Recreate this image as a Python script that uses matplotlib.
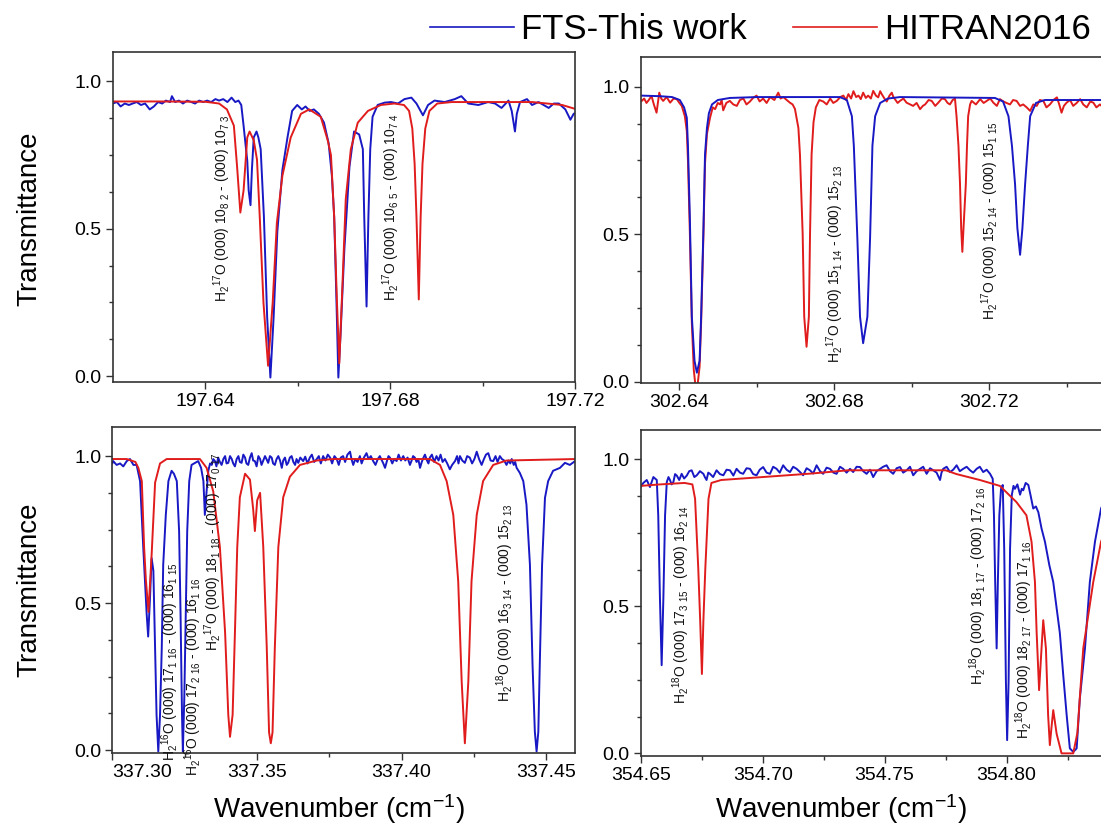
import numpy as np
import matplotlib
matplotlib.use('Agg')
import matplotlib.pyplot as plt
from matplotlib.lines import Line2D
from matplotlib.ticker import FixedLocator, FormatStrFormatter

plt.rcParams['font.family'] = ['Liberation Sans', 'DejaVu Sans']
plt.rcParams['mathtext.default'] = 'regular'

BLUE = '#1818c4'
RED = '#e01c1c'

# ---- top-left: 197.62 - 197.72 cm-1 (wavenumber, transmittance) ----
tl_fts = [
    (197.6200, 0.925), (197.6209, 0.93), (197.6217, 0.915), (197.6226, 0.925), (197.6235, 0.92),
    (197.6243, 0.925), (197.6252, 0.93), (197.6261, 0.92), (197.6270, 0.925), (197.6280, 0.905),
    (197.6289, 0.915), (197.6298, 0.93), (197.6307, 0.925), (197.6315, 0.935), (197.6324, 0.93),
    (197.6328, 0.95), (197.6335, 0.93), (197.6343, 0.935), (197.6352, 0.925), (197.6361, 0.935),
    (197.6370, 0.93), (197.6378, 0.925), (197.6387, 0.935), (197.6396, 0.93), (197.6404, 0.935),
    (197.6413, 0.93), (197.6422, 0.94), (197.6430, 0.935), (197.6439, 0.94), (197.6448, 0.93),
    (197.6457, 0.945), (197.6465, 0.93), (197.6472, 0.935), (197.6478, 0.92), (197.6483, 0.85),
    (197.6491, 0.73), (197.6494, 0.63), (197.6498, 0.58), (197.6501, 0.70), (197.6505, 0.81),
    (197.6511, 0.83), (197.6515, 0.81), (197.6520, 0.77), (197.6527, 0.54), (197.6534, 0.20),
    (197.6541, -0.005), (197.6548, 0.20), (197.6556, 0.49), (197.6567, 0.70), (197.6578, 0.81),
    (197.6588, 0.90), (197.6599, 0.92), (197.6609, 0.905), (197.6617, 0.915), (197.6626, 0.90),
    (197.6635, 0.905), (197.6646, 0.89), (197.6657, 0.86), (197.6667, 0.79), (197.6674, 0.68),
    (197.6679, 0.54), (197.6684, 0.25), (197.6688, -0.005), (197.6693, 0.15), (197.6701, 0.43),
    (197.6712, 0.71), (197.6722, 0.83), (197.6733, 0.82), (197.6741, 0.77), (197.6744, 0.54),
    (197.6749, 0.236), (197.6753, 0.54), (197.6757, 0.77), (197.6762, 0.88), (197.6773, 0.92),
    (197.6788, 0.928), (197.6802, 0.93), (197.6817, 0.925), (197.6831, 0.94), (197.6846, 0.945),
    (197.6857, 0.925), (197.6871, 0.885), (197.6882, 0.92), (197.6896, 0.935), (197.6918, 0.93),
    (197.6940, 0.94), (197.6954, 0.95), (197.6969, 0.925), (197.6991, 0.92), (197.7012, 0.93),
    (197.7027, 0.925), (197.7041, 0.91), (197.7056, 0.935), (197.7063, 0.90), (197.7070, 0.83),
    (197.7074, 0.89), (197.7081, 0.93), (197.7096, 0.94), (197.7107, 0.92), (197.7121, 0.93),
    (197.7143, 0.91), (197.7154, 0.925), (197.7165, 0.925), (197.7179, 0.905), (197.7190, 0.87),
    (197.7197, 0.89), (197.7204, 0.895),
]
tl_hit = [
    (197.6200, 0.932), (197.6300, 0.932), (197.6400, 0.931), (197.6430, 0.925), (197.6447, 0.905),
    (197.6462, 0.85), (197.6469, 0.71), (197.6476, 0.555), (197.6483, 0.63), (197.6491, 0.81),
    (197.6496, 0.83), (197.6505, 0.80), (197.6512, 0.735), (197.6518, 0.54), (197.6526, 0.25),
    (197.6536, 0.035), (197.6546, 0.25), (197.6555, 0.52), (197.6567, 0.68), (197.6585, 0.81),
    (197.6607, 0.89), (197.6625, 0.905), (197.6650, 0.88), (197.6665, 0.80), (197.6672, 0.75),
    (197.6679, 0.54), (197.6685, 0.25), (197.6690, 0.043), (197.6697, 0.315), (197.6704, 0.60),
    (197.6715, 0.77), (197.6730, 0.86), (197.6752, 0.90), (197.6780, 0.92), (197.6809, 0.925),
    (197.6830, 0.92), (197.6841, 0.90), (197.6848, 0.84), (197.6853, 0.72), (197.6857, 0.54),
    (197.6862, 0.26), (197.6866, 0.54), (197.6870, 0.72), (197.6876, 0.84), (197.6885, 0.90),
    (197.6902, 0.925), (197.6933, 0.93), (197.7107, 0.93), (197.7172, 0.92), (197.7204, 0.905),
]

# ---- top-right: 302.63 - 302.76 cm-1 ----
tr_fts = [
    (302.6300, 0.97), (302.6350, 0.968), (302.6381, 0.965), (302.6401, 0.955), (302.6412, 0.93),
    (302.6419, 0.895), (302.6422, 0.80), (302.6427, 0.55), (302.6432, 0.22), (302.6439, 0.07),
    (302.6445, 0.03), (302.6452, 0.07), (302.6456, 0.22), (302.6462, 0.52), (302.6466, 0.77),
    (302.6471, 0.86), (302.6476, 0.91), (302.6484, 0.94), (302.6499, 0.955), (302.6530, 0.962),
    (302.6600, 0.965), (302.6814, 0.965), (302.6832, 0.955), (302.6845, 0.90), (302.6850, 0.80),
    (302.6859, 0.49), (302.6866, 0.22), (302.6874, 0.13), (302.6885, 0.22), (302.6892, 0.49),
    (302.6898, 0.80), (302.6905, 0.90), (302.6918, 0.945), (302.6938, 0.96), (302.6969, 0.965),
    (302.7214, 0.962), (302.7235, 0.95), (302.7249, 0.90), (302.7258, 0.80), (302.7266, 0.67),
    (302.7272, 0.52), (302.7279, 0.43), (302.7285, 0.52), (302.7292, 0.67), (302.7299, 0.80),
    (302.7305, 0.90), (302.7320, 0.945), (302.7343, 0.955), (302.7600, 0.955),
]
tr_hit = [
    (302.6300, 0.955), (302.6303, 0.952), (302.6309, 0.96), (302.6315, 0.945), (302.6321, 0.955),
    (302.6328, 0.969), (302.6334, 0.94), (302.6341, 0.912), (302.6348, 0.98), (302.6353, 0.96),
    (302.6358, 0.952), (302.6367, 0.965), (302.6376, 0.946), (302.6385, 0.96), (302.6393, 0.958),
    (302.6400, 0.945), (302.6406, 0.935), (302.6414, 0.90), (302.6419, 0.85), (302.6422, 0.75),
    (302.6427, 0.50), (302.6432, 0.20), (302.6437, 0.04), (302.6441, -0.01), (302.6447, -0.01),
    (302.6452, 0.05), (302.6456, 0.20), (302.6462, 0.50), (302.6466, 0.74), (302.6471, 0.84),
    (302.6479, 0.895), (302.6486, 0.93), (302.6492, 0.924), (302.6499, 0.945), (302.6505, 0.94),
    (302.6509, 0.955), (302.6513, 0.92), (302.6521, 0.945), (302.6530, 0.952), (302.6539, 0.94),
    (302.6548, 0.935), (302.6556, 0.955), (302.6565, 0.96), (302.6573, 0.94), (302.6582, 0.95),
    (302.6590, 0.962), (302.6599, 0.97), (302.6607, 0.95), (302.6616, 0.96), (302.6625, 0.945),
    (302.6634, 0.965), (302.6645, 0.955), (302.6655, 0.98), (302.6661, 0.96), (302.6668, 0.965),
    (302.6677, 0.955), (302.6685, 0.946), (302.6692, 0.94), (302.6698, 0.925), (302.6707, 0.86),
    (302.6711, 0.77), (302.6718, 0.50), (302.6722, 0.22), (302.6728, 0.118), (302.6734, 0.22),
    (302.6737, 0.50), (302.6741, 0.77), (302.6746, 0.88), (302.6752, 0.93), (302.6761, 0.955),
    (302.6771, 0.95), (302.6780, 0.94), (302.6789, 0.96), (302.6797, 0.945), (302.6806, 0.952),
    (302.6815, 0.965), (302.6823, 0.97), (302.6830, 0.955), (302.6836, 0.975), (302.6843, 0.96),
    (302.6849, 0.985), (302.6856, 0.965), (302.6862, 0.97), (302.6868, 0.958), (302.6874, 0.98),
    (302.6881, 0.962), (302.6887, 0.97), (302.6894, 0.96), (302.6900, 0.986), (302.6907, 0.97),
    (302.6913, 0.964), (302.6918, 0.985), (302.6922, 0.975), (302.6929, 0.96), (302.6935, 0.95),
    (302.6942, 0.97), (302.6948, 0.98), (302.6952, 0.965), (302.6956, 0.958), (302.6963, 0.945),
    (302.6969, 0.952), (302.6978, 0.96), (302.6986, 0.946), (302.6995, 0.94), (302.7003, 0.935),
    (302.7012, 0.945), (302.7021, 0.924), (302.7028, 0.935), (302.7034, 0.94), (302.7043, 0.955),
    (302.7051, 0.952), (302.7060, 0.935), (302.7068, 0.946), (302.7077, 0.96), (302.7085, 0.958),
    (302.7092, 0.945), (302.7098, 0.94), (302.7105, 0.955), (302.7111, 0.96), (302.7115, 0.90),
    (302.7120, 0.80), (302.7124, 0.67), (302.7127, 0.52), (302.7130, 0.44), (302.7133, 0.52),
    (302.7139, 0.67), (302.7142, 0.80), (302.7145, 0.90), (302.7150, 0.94), (302.7154, 0.952),
    (302.7165, 0.94), (302.7176, 0.958), (302.7185, 0.945), (302.7193, 0.952), (302.7202, 0.96),
    (302.7210, 0.946), (302.7219, 0.935), (302.7227, 0.958), (302.7236, 0.95), (302.7244, 0.945),
    (302.7253, 0.94), (302.7261, 0.955), (302.7270, 0.952), (302.7279, 0.935), (302.7287, 0.94),
    (302.7296, 0.93), (302.7305, 0.918), (302.7313, 0.94), (302.7322, 0.935), (302.7330, 0.955),
    (302.7339, 0.952), (302.7347, 0.93), (302.7356, 0.94), (302.7365, 0.955), (302.7374, 0.964),
    (302.7380, 0.94), (302.7386, 0.912), (302.7392, 0.935), (302.7399, 0.946), (302.7408, 0.955),
    (302.7416, 0.935), (302.7425, 0.945), (302.7434, 0.958), (302.7442, 0.94), (302.7451, 0.93),
    (302.7460, 0.95), (302.7468, 0.946), (302.7476, 0.93), (302.7485, 0.94), (302.7498, 0.925),
    (302.7511, 0.935), (302.7524, 0.95), (302.7537, 0.945), (302.7550, 0.925), (302.7563, 0.93),
    (302.7580, 0.945), (302.7600, 0.94),
]

# ---- bottom-left: 337.30 - 337.46 cm-1 ----
bl_fts = [
    (337.3000, 0.975), (337.3003, 0.983), (337.3015, 0.97), (337.3027, 0.975), (337.3038, 0.965),
    (337.3050, 0.983), (337.3061, 0.99), (337.3073, 0.97), (337.3084, 0.97), (337.3096, 0.915),
    (337.3107, 0.69), (337.3119, 0.46), (337.3124, 0.386), (337.3130, 0.51), (337.3136, 0.653),
    (337.3142, 0.61), (337.3148, 0.347), (337.3153, 0.12), (337.3159, -0.005), (337.3165, 0.12),
    (337.3171, 0.347), (337.3176, 0.63), (337.3185, 0.80), (337.3194, 0.915), (337.3205, 0.95),
    (337.3213, 0.94), (337.3223, 0.915), (337.3231, 0.744), (337.3236, 0.46), (337.3241, 0.12),
    (337.3244, -0.005), (337.3249, 0.18), (337.3254, 0.46), (337.3259, 0.744), (337.3266, 0.915),
    (337.3274, 0.97), (337.3286, 0.977), (337.3297, 0.983), (337.3307, 0.96), (337.3315, 0.915),
    (337.3320, 0.80), (337.3326, 0.88), (337.3332, 0.95), (337.3338, 0.975), (337.3344, 0.97),
    (337.3349, 0.99), (337.3355, 0.983), (337.3360, 0.965), (337.3366, 0.995), (337.3372, 0.98),
    (337.3378, 0.97), (337.3384, 0.99), (337.3390, 1.0), (337.3395, 0.975), (337.3401, 0.977),
    (337.3407, 1.0), (337.3413, 0.99), (337.3418, 0.975), (337.3424, 0.965), (337.3430, 0.99),
    (337.3436, 1.0), (337.3441, 0.98), (337.3447, 0.977), (337.3453, 1.005), (337.3459, 0.995),
    (337.3464, 0.975), (337.3470, 0.97), (337.3476, 0.995), (337.3482, 1.01), (337.3487, 0.985),
    (337.3493, 0.983), (337.3499, 0.965), (337.3505, 1.0), (337.3511, 0.99), (337.3516, 0.97),
    (337.3522, 0.985), (337.3528, 1.0), (337.3533, 0.99), (337.3539, 0.977), (337.3545, 1.0),
    (337.3551, 0.995), (337.3556, 0.975), (337.3562, 0.97), (337.3568, 0.99), (337.3574, 1.0),
    (337.3580, 0.985), (337.3586, 0.96), (337.3591, 0.985), (337.3597, 0.995), (337.3603, 0.97),
    (337.3608, 0.977), (337.3614, 0.995), (337.3620, 1.0), (337.3626, 0.98), (337.3632, 0.97),
    (337.3637, 0.99), (337.3643, 0.977), (337.3650, 0.995), (337.3660, 0.983), (337.3667, 0.998),
    (337.3675, 0.975), (337.3683, 0.995), (337.3690, 1.005), (337.3698, 0.98), (337.3707, 0.99),
    (337.3714, 1.0), (337.3721, 0.975), (337.3729, 1.0), (337.3737, 0.985), (337.3745, 1.005),
    (337.3753, 0.995), (337.3760, 0.975), (337.3768, 1.0), (337.3776, 0.99), (337.3783, 0.97),
    (337.3790, 0.995), (337.3798, 1.0), (337.3805, 0.98), (337.3813, 1.005), (337.3822, 1.015),
    (337.3827, 0.99), (337.3833, 0.97), (337.3840, 0.99), (337.3848, 0.98), (337.3856, 1.0),
    (337.3862, 0.975), (337.3870, 0.995), (337.3879, 1.01), (337.3886, 0.99), (337.3894, 1.0),
    (337.3902, 0.983), (337.3910, 0.97), (337.3918, 0.99), (337.3925, 1.0), (337.3932, 0.985),
    (337.3937, 0.975), (337.3943, 0.96), (337.3950, 0.985), (337.3955, 1.0), (337.3960, 0.995),
    (337.3968, 0.975), (337.3975, 0.99), (337.3983, 0.983), (337.3990, 1.005), (337.3998, 0.985),
    (337.4006, 1.0), (337.4013, 0.985), (337.4021, 0.995), (337.4029, 0.97), (337.4035, 0.985),
    (337.4040, 1.0), (337.4046, 0.995), (337.4052, 0.98), (337.4058, 0.99), (337.4064, 0.96),
    (337.4070, 0.98), (337.4076, 0.995), (337.4081, 1.005), (337.4088, 0.985), (337.4093, 0.975),
    (337.4098, 0.995), (337.4105, 1.005), (337.4113, 0.98), (337.4121, 1.0), (337.4128, 0.985),
    (337.4135, 1.005), (337.4142, 0.98), (337.4150, 0.99), (337.4158, 0.975), (337.4167, 0.955),
    (337.4175, 0.97), (337.4185, 0.983), (337.4192, 1.0), (337.4197, 0.975), (337.4202, 1.0),
    (337.4210, 0.985), (337.4219, 0.977), (337.4227, 1.0), (337.4236, 0.995), (337.4244, 0.975),
    (337.4252, 0.99), (337.4260, 1.015), (337.4268, 0.99), (337.4277, 0.97), (337.4285, 0.99),
    (337.4292, 1.005), (337.4300, 1.01), (337.4308, 0.985), (337.4317, 0.983), (337.4325, 1.0),
    (337.4332, 0.98), (337.4340, 1.0), (337.4347, 0.99), (337.4355, 0.985), (337.4363, 0.97),
    (337.4370, 0.985), (337.4376, 0.975), (337.4381, 0.99), (337.4388, 0.97), (337.4393, 0.98),
    (337.4398, 0.96), (337.4409, 0.943), (337.4421, 0.915), (337.4432, 0.835), (337.4444, 0.63),
    (337.4453, 0.29), (337.4461, 0.062), (337.4467, -0.005), (337.4473, 0.062), (337.4478, 0.29),
    (337.4486, 0.63), (337.4496, 0.858), (337.4507, 0.915), (337.4524, 0.95), (337.4548, 0.96),
    (337.4565, 0.977), (337.4582, 0.97), (337.4600, 0.983),
]
bl_hit = [
    (337.3000, 0.99), (337.3050, 0.99), (337.3080, 0.98), (337.3090, 0.96), (337.3102, 0.915),
    (337.3110, 0.69), (337.3116, 0.58), (337.3125, 0.47), (337.3136, 0.665), (337.3148, 0.91),
    (337.3165, 0.975), (337.3188, 0.99), (337.3303, 0.99), (337.3326, 0.96), (337.3349, 0.88),
    (337.3372, 0.69), (337.3390, 0.40), (337.3401, 0.12), (337.3407, 0.045), (337.3416, 0.12),
    (337.3424, 0.40), (337.3432, 0.69), (337.3441, 0.86), (337.3459, 0.94), (337.3476, 0.92),
    (337.3487, 0.82), (337.3493, 0.745), (337.3501, 0.85), (337.3511, 0.875), (337.3522, 0.69),
    (337.3534, 0.35), (337.3542, 0.06), (337.3548, 0.023), (337.3554, 0.06), (337.3562, 0.35),
    (337.3574, 0.69), (337.3591, 0.86), (337.3614, 0.93), (337.3649, 0.97), (337.3707, 0.985),
    (337.3764, 0.99), (337.4098, 0.99), (337.4133, 0.97), (337.4156, 0.915), (337.4179, 0.80),
    (337.4196, 0.574), (337.4208, 0.233), (337.4219, 0.023), (337.4231, 0.233), (337.4242, 0.574),
    (337.4260, 0.80), (337.4282, 0.915), (337.4317, 0.97), (337.4363, 0.985), (337.4600, 0.99),
]

# ---- bottom-right: 354.65 - 354.85 cm-1 ----
br_fts = [
    (354.6500, 0.906), (354.6511, 0.92), (354.6525, 0.93), (354.6538, 0.906), (354.6552, 0.94),
    (354.6566, 0.93), (354.6572, 0.81), (354.6579, 0.527), (354.6586, 0.30), (354.6593, 0.527),
    (354.6600, 0.81), (354.6607, 0.923), (354.6614, 0.94), (354.6620, 0.93), (354.6627, 0.915),
    (354.6634, 0.923), (354.6641, 0.95), (354.6648, 0.945), (354.6658, 0.93), (354.6668, 0.951),
    (354.6678, 0.935), (354.6689, 0.945), (354.6699, 0.96), (354.6709, 0.963), (354.6720, 0.94),
    (354.6730, 0.946), (354.6743, 0.96), (354.6757, 0.951), (354.6763, 0.94), (354.6770, 0.93),
    (354.6777, 0.955), (354.6784, 0.951), (354.6797, 0.94), (354.6811, 0.963), (354.6825, 0.95),
    (354.6839, 0.946), (354.6852, 0.965), (354.6866, 0.963), (354.6880, 0.945), (354.6893, 0.968),
    (354.6907, 0.955), (354.6920, 0.951), (354.6934, 0.97), (354.6948, 0.968), (354.6961, 0.95),
    (354.6975, 0.946), (354.6988, 0.965), (354.7002, 0.974), (354.7016, 0.955), (354.7030, 0.951),
    (354.7043, 0.975), (354.7057, 0.968), (354.7070, 0.955), (354.7084, 0.98), (354.7098, 0.965),
    (354.7112, 0.957), (354.7125, 0.975), (354.7139, 0.968), (354.7152, 0.958), (354.7166, 0.946),
    (354.7180, 0.97), (354.7194, 0.963), (354.7207, 0.952), (354.7221, 0.98), (354.7235, 0.96),
    (354.7248, 0.951), (354.7262, 0.972), (354.7276, 0.968), (354.7290, 0.955), (354.7303, 0.951),
    (354.7317, 0.975), (354.7330, 0.968), (354.7344, 0.955), (354.7358, 0.968), (354.7371, 0.957),
    (354.7385, 0.975), (354.7399, 0.974), (354.7412, 0.96), (354.7426, 0.951), (354.7440, 0.965),
    (354.7453, 0.94), (354.7467, 0.96), (354.7481, 0.968), (354.7494, 0.975), (354.7508, 0.98),
    (354.7522, 0.96), (354.7535, 0.951), (354.7549, 0.97), (354.7563, 0.974), (354.7576, 0.955),
    (354.7590, 0.963), (354.7604, 0.975), (354.7617, 0.946), (354.7631, 0.96), (354.7645, 0.968),
    (354.7658, 0.975), (354.7672, 0.951), (354.7686, 0.97), (354.7699, 0.963), (354.7713, 0.955),
    (354.7727, 0.93), (354.7733, 0.955), (354.7740, 0.968), (354.7754, 0.975), (354.7768, 0.957),
    (354.7781, 0.965), (354.7795, 0.98), (354.7808, 0.96), (354.7822, 0.968), (354.7836, 0.975),
    (354.7850, 0.963), (354.7863, 0.955), (354.7877, 0.968), (354.7890, 0.975), (354.7904, 0.957),
    (354.7918, 0.965), (354.7932, 0.951), (354.7943, 0.934), (354.7948, 0.81), (354.7953, 0.583),
    (354.7959, 0.357), (354.7964, 0.583), (354.7970, 0.81), (354.7977, 0.90), (354.7984, 0.913),
    (354.7990, 0.697), (354.7997, 0.243), (354.8002, 0.045), (354.8008, 0.243), (354.8014, 0.697),
    (354.8021, 0.878), (354.8028, 0.91), (354.8034, 0.90), (354.8044, 0.915), (354.8055, 0.88),
    (354.8062, 0.90), (354.8068, 0.895), (354.8078, 0.92), (354.8089, 0.913), (354.8098, 0.878),
    (354.8109, 0.833), (354.8120, 0.84), (354.8130, 0.82), (354.8143, 0.765), (354.8157, 0.72),
    (354.8175, 0.64), (354.8191, 0.583), (354.8205, 0.493), (354.8218, 0.41), (354.8232, 0.266),
    (354.8246, 0.13), (354.8259, 0.017), (354.8273, 0.005), (354.8287, 0.017), (354.8300, 0.187),
    (354.8321, 0.357), (354.8341, 0.583), (354.8362, 0.72), (354.8387, 0.833), (354.8423, 0.90),
    (354.8464, 0.93), (354.8500, 0.94),
]
br_hit = [
    (354.6500, 0.91), (354.6580, 0.915), (354.6680, 0.92), (354.6712, 0.915), (354.6723, 0.866),
    (354.6736, 0.63), (354.6744, 0.45), (354.6751, 0.27), (354.6757, 0.45), (354.6765, 0.63),
    (354.6778, 0.866), (354.6790, 0.92), (354.6830, 0.93), (354.7000, 0.94), (354.7200, 0.952),
    (354.7350, 0.963), (354.7750, 0.963), (354.7795, 0.95), (354.7890, 0.93), (354.7972, 0.91),
    (354.8040, 0.855), (354.8081, 0.81), (354.8102, 0.72), (354.8116, 0.583), (354.8123, 0.41),
    (354.8133, 0.215), (354.8143, 0.357), (354.8150, 0.453), (354.8161, 0.357), (354.8170, 0.13),
    (354.8177, 0.028), (354.8184, 0.09), (354.8191, 0.147), (354.8205, 0.066), (354.8225, 0.0),
    (354.8273, 0.0), (354.8290, 0.07), (354.8314, 0.357), (354.8355, 0.583), (354.8387, 0.72),
    (354.8423, 0.80), (354.8464, 0.86), (354.8500, 0.89),
]

# line assignments: (wavenumber, transmittance, text)
tl_labels = [
    (197.6437, 0.57, r'H$_2$$^{17}$O (000) 10$_{8\ 2}$ - (000) 10$_{7\ 3}$'),
    (197.6802, 0.575, r'H$_2$$^{17}$O (000) 10$_{6\ 5}$ - (000) 10$_{7\ 4}$'),
]
tr_labels = [
    (302.6801, 0.40, r'H$_2$$^{17}$O (000) 15$_{1\ 14}$ - (000) 15$_{2\ 13}$'),
    (302.7201, 0.545, r'H$_2$$^{17}$O (000) 15$_{2\ 14}$ - (000) 15$_{1\ 15}$'),
]
bl_labels = [
    (337.3199, 0.30, r'H$_2$$^{16}$O (000) 17$_{1\ 16}$ - (000) 16$_{1\ 15}$'),
    (337.3279, 0.25, r'H$_2$$^{16}$O (000) 17$_{2\ 16}$ - (000) 16$_{1\ 16}$'),
    (337.3349, 0.675, r'H$_2$$^{17}$O (000) 18$_{1\ 18}$ - (000) 17$_{0\ 17}$'),
    (337.4357, 0.50, r'H$_2$$^{18}$O (000) 16$_{3\ 14}$ - (000) 15$_{2\ 13}$'),
]
br_labels = [
    (354.6665, 0.507, r'H$_2$$^{18}$O (000) 17$_{3\ 15}$ - (000) 16$_{2\ 14}$'),
    (354.7882, 0.572, r'H$_2$$^{18}$O (000) 18$_{1\ 17}$ - (000) 17$_{2\ 16}$'),
    (354.8071, 0.388, r'H$_2$$^{18}$O (000) 18$_{2\ 17}$ - (000) 17$_{1\ 16}$'),
]

panels = [
    dict(pos=[0.1024, 0.5398, 0.4199, 0.3976], xlim=(197.62, 197.72), ylim=(-0.02, 1.10),
         major=[197.64, 197.68, 197.72], minor=[197.66, 197.70],
         fts=tl_fts, hit=tl_hit, smooth='hit', labels=tl_labels),
    dict(pos=[0.5819, 0.5382, 0.4576, 0.3928], xlim=(302.63, 302.76), ylim=(-0.006, 1.10),
         major=[302.64, 302.68, 302.72], minor=[302.66, 302.70, 302.74],
         fts=tr_fts, hit=tr_hit, smooth='fts', labels=tr_labels),
    dict(pos=[0.1020, 0.0928, 0.4203, 0.3931], xlim=(337.30, 337.46), ylim=(-0.01, 1.10),
         major=[337.30, 337.35, 337.40, 337.45], minor=[337.325, 337.375, 337.425],
         fts=bl_fts, hit=bl_hit, smooth='hit', labels=bl_labels),
    dict(pos=[0.5819, 0.0895, 0.4432, 0.3924], xlim=(354.65, 354.85), ylim=(-0.008, 1.10),
         major=[354.65, 354.70, 354.75, 354.80], minor=[354.675, 354.725, 354.775, 354.825],
         fts=br_fts, hit=br_hit, smooth='hit', labels=br_labels),
]

fig = plt.figure(figsize=(11.01, 8.30), dpi=100)

for i, p in enumerate(panels):
    ax = fig.add_axes(p['pos'])
    fts = np.array(p['fts'])
    hit = np.array(p['hit'])
    # noisy trace first, smooth trace on top
    if p['smooth'] == 'hit':
        ax.plot(fts[:, 0], fts[:, 1], color=BLUE, lw=1.4)
        ax.plot(hit[:, 0], hit[:, 1], color=RED, lw=1.4)
    else:
        ax.plot(hit[:, 0], hit[:, 1], color=RED, lw=1.4)
        ax.plot(fts[:, 0], fts[:, 1], color=BLUE, lw=1.4)

    for x, y, s in p['labels']:
        ax.text(x, y, s, rotation=90, ha='center', va='center', fontsize=10, color='#111111')

    ax.set_xlim(p['xlim'])
    ax.set_ylim(p['ylim'])
    ax.xaxis.set_major_locator(FixedLocator(p['major']))
    ax.xaxis.set_minor_locator(FixedLocator(p['minor']))
    ax.xaxis.set_major_formatter(FormatStrFormatter('%.2f'))
    ax.yaxis.set_major_locator(FixedLocator([0.0, 0.5, 1.0]))
    ax.yaxis.set_minor_locator(FixedLocator([0.125, 0.25, 0.375, 0.625, 0.75, 0.875]))
    ax.yaxis.set_major_formatter(FormatStrFormatter('%.1f'))
    ax.tick_params(which='both', direction='out', top=False, right=False,
                   color='#333333', width=1.0, labelsize=14, pad=3)
    ax.tick_params(which='major', length=5)
    ax.tick_params(which='minor', length=3)
    for sp in ax.spines.values():
        sp.set_linewidth(1.2)
        sp.set_color('#333333')
    if i == 2:
        ax.xaxis.get_major_ticks()[0].label1.set_horizontalalignment('left')

# axis titles
fig.text(0.027, 0.737, 'Transmittance', rotation=90, ha='center', va='center', fontsize=20)
fig.text(0.027, 0.289, 'Transmittance', rotation=90, ha='center', va='center', fontsize=20)
fig.text(0.308, 0.025, 'Wavenumber (cm$^{-1}$)', ha='center', va='center', fontsize=20)
fig.text(0.764, 0.025, 'Wavenumber (cm$^{-1}$)', ha='center', va='center', fontsize=20)

handles = [Line2D([], [], color=BLUE, lw=1.2), Line2D([], [], color=RED, lw=1.2)]
fig.legend(handles, ['FTS-This work', 'HITRAN2016'], loc='center left',
           bbox_to_anchor=(0.391, 0.964), ncol=2, frameon=False, fontsize=25,
           handlelength=2.4, handletextpad=0.2, columnspacing=1.35,
           borderpad=0, borderaxespad=0)

fig.savefig('out.png', dpi=100)
